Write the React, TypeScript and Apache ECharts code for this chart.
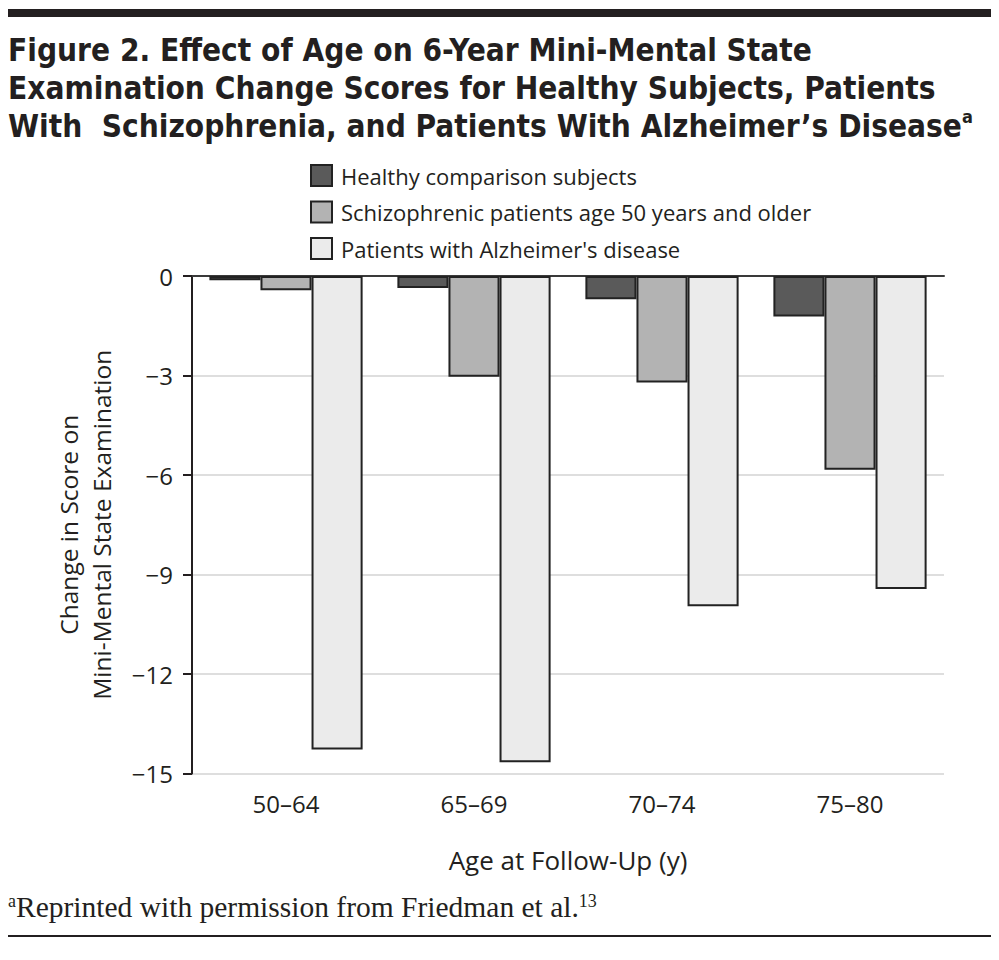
import React, { useEffect, useRef } from "react";
import * as echarts from "echarts";

const categories = ["50–64", "65–69", "70–74", "75–80"];
const seriesNames = [
  "Healthy comparison subjects",
  "Schizophrenic patients age 50 years and older",
  "Patients with Alzheimer's disease",
];
const healthy = [-0.13, -0.36, -0.7, -1.22];
const schizophrenic = [-0.43, -3.04, -3.21, -5.84];
const alzheimer = [-14.28, -14.66, -9.96, -9.44];
const yTicks = [0, -3, -6, -9, -12, -15];
const colors = ["#5a5a5a", "#b3b3b3", "#ebebeb"];

const sansFont = "'Open Sans', 'Noto Sans', sans-serif";
const titleFont = "'DejaVu Sans Condensed', 'DejaVu Sans', sans-serif";

export default function App() {
  const ref = useRef<HTMLDivElement>(null);
  useEffect(() => {
    if (!ref.current) return;
    const chart = echarts.init(ref.current, null, { renderer: "svg" });
    const values = [healthy, schizophrenic, alzheimer];
    chart.setOption({
      animation: false,
      backgroundColor: "#ffffff",
      textStyle: { fontFamily: sansFont, color: "#231f20" },
      title: {
        left: 8,
        top: 31,
        padding: 0,
        text:
          "Figure 2. Effect of Age on 6-Year Mini-Mental State\nExamination Change Scores for Healthy Subjects, Patients\nWith  Schizophrenia, and Patients With Alzheimer’s Disease{sup|a}",
        textStyle: {
          fontFamily: titleFont,
          fontWeight: "bold",
          fontSize: 31.3,
          lineHeight: 38,
          color: "#231f20",
          rich: {
            sup: {
              fontFamily: titleFont,
              fontWeight: "bold",
              fontSize: 18,
              verticalAlign: "top",
              lineHeight: 30,
              color: "#231f20",
            },
          },
        },
      },
      legend: {
        orient: "vertical",
        left: 310,
        top: 164,
        padding: 0,
        itemWidth: 21,
        itemHeight: 21,
        itemGap: 13.5,
        icon: "rect",
        selectedMode: false,
        textStyle: {
          fontFamily: sansFont,
          fontSize: 22,
          lineHeight: 21,
          color: "#231f20",
          padding: [0, 0, 0, 4],
        },
        data: seriesNames,
      },
      grid: { left: 192, right: 55, top: 276, bottom: 960 - 773.5, containLabel: false },
      xAxis: [
        {
          type: "category",
          data: categories,
          position: "top",
          axisLine: { show: true, onZero: false, lineStyle: { color: "#3a3a3a", width: 2 } },
          axisTick: { show: false },
          axisLabel: { show: false },
        },
        {
          type: "category",
          data: categories,
          position: "bottom",
          axisLine: { show: false, onZero: false },
          axisTick: { show: false },
          axisLabel: { margin: 18, fontSize: 24, color: "#231f20", fontFamily: sansFont },
          name: "Age at Follow-Up (y)",
          nameLocation: "middle",
          nameGap: 73,
          nameTextStyle: { fontSize: 26, color: "#231f20", fontFamily: sansFont },
        },
      ],
      yAxis: {
        type: "value",
        min: -15,
        max: 0,
        interval: 3,
        axisLine: { show: true, lineStyle: { color: "#231f20", width: 2 } },
        axisTick: { show: true, length: 9, lineStyle: { color: "#231f20", width: 2 } },
        axisLabel: {
          margin: 19,
          fontSize: 24,
          color: "#231f20",
          fontFamily: sansFont,
          formatter: (v: number) => (yTicks.includes(v) ? String(v).replace("-", "−") : ""),
        },
        splitLine: { show: true, lineStyle: { color: "#dedede", width: 2 } },
        name: "Change in Score on\nMini-Mental State Examination",
        nameLocation: "middle",
        nameGap: 74,
        nameRotate: 90,
        nameTextStyle: { fontSize: 24.5, lineHeight: 33, color: "#231f20", fontFamily: sansFont },
      },
      series: values.map((d, i) => ({
        type: "bar",
        name: seriesNames[i],
        data: d,
        xAxisIndex: 0,
        barGap: "0%",
        barCategoryGap: "18.5%",
        itemStyle: { color: colors[i], borderColor: "#222222", borderWidth: 2 },
      })),
      graphic: [
        { type: "rect", shape: { x: 8, y: 9, width: 983, height: 8 }, style: { fill: "#231f20" } },
        { type: "rect", shape: { x: 8, y: 935, width: 983, height: 2 }, style: { fill: "#231f20" } },
        {
          type: "text",
          left: 8,
          top: 892,
          style: {
            text: "{sup|a}Reprinted with permission from Friedman et al.{sup|13}",
            fontFamily: "'Liberation Serif', 'DejaVu Serif', serif",
            fontSize: 29.5,
            fill: "#231f20",
            rich: {
              sup: {
                fontFamily: "'Liberation Serif', serif",
                fontSize: 18,
                verticalAlign: "top",
                lineHeight: 18,
                fill: "#231f20",
              },
            },
          },
        },
      ],
    });
    return () => chart.dispose();
  }, []);
  return (
    <div
      ref={ref}
      style={{ position: "absolute", left: 0, top: 0, width: 999, height: 960 }}
    />
  );
}
